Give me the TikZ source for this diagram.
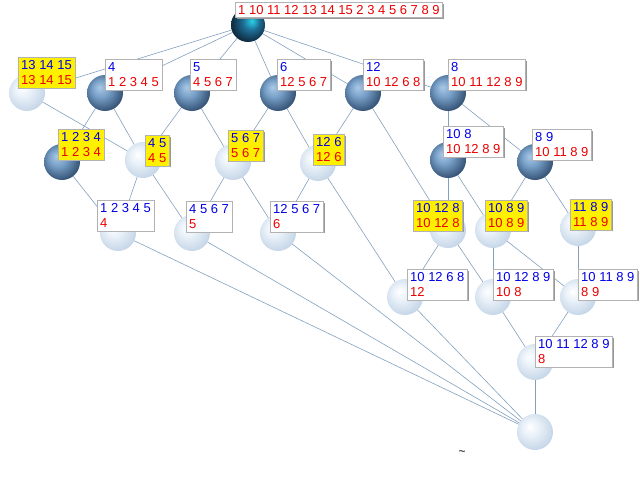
\documentclass[tikz,border=0pt]{standalone}
\usepackage{fontspec}
\setmainfont{Liberation Sans}
\usetikzlibrary{shadows}
\definecolor{edgec}{RGB}{130,160,190}
\definecolor{lblue}{RGB}{0,0,230}
\definecolor{lred}{RGB}{235,0,0}
\definecolor{ybox}{RGB}{255,240,0}
\pgfdeclareradialshading{lball}{\pgfpoint{-8bp}{8bp}}{%
  color(0bp)=(white); color(12bp)=(rgb,255:red,232;green,240;blue,248);
  color(30bp)=(rgb,255:red,195;green,212;blue,230); color(50bp)=(rgb,255:red,185;green,205;blue,225)}
\pgfdeclareradialshading{dball}{\pgfpoint{-8bp}{8bp}}{%
  color(0bp)=(rgb,255:red,170;green,200;blue,230); color(12bp)=(rgb,255:red,120;green,160;blue,200);
  color(28bp)=(rgb,255:red,55;green,85;blue,120); color(50bp)=(rgb,255:red,45;green,70;blue,100)}
\pgfdeclareradialshading{tball}{\pgfpoint{6bp}{6bp}}{%
  color(0bp)=(rgb,255:red,40;green,210;blue,230); color(12bp)=(rgb,255:red,30;green,110;blue,150);
  color(28bp)=(rgb,255:red,15;green,40;blue,60); color(50bp)=(rgb,255:red,10;green,30;blue,45)}
\tikzset{
  ballD/.style={circle,minimum size=36pt,inner sep=0pt,shading=dball},
  ballL/.style={circle,minimum size=36pt,inner sep=0pt,shading=lball},
  ballT/.style={circle,minimum size=36pt,inner sep=0pt,shading=tball},
  edge/.style={draw=edgec,line width=0.6pt},
  lab/.style={anchor=north west,draw=gray!60,fill=white,inner xsep=3pt,inner ysep=3pt,align=left,
    font=\fontsize{13}{15.5}\selectfont,
    drop shadow={shadow xshift=1.5pt,shadow yshift=-1.5pt,fill=gray!80,opacity=1}},
  ylab/.style={lab,fill=ybox}
}
\newcommand{\bl}[2]{\textcolor{lblue}{#1}\\\textcolor{lred}{#2}}
\begin{document}
\begin{tikzpicture}[x=1pt,y=-1pt]
\useasboundingbox (0,0) rectangle (640,479);
\coordinate (T) at (248,25);
\coordinate (A) at (27,93);
\coordinate (B) at (105,93);
\coordinate (C) at (192,93);
\coordinate (D) at (278,93);
\coordinate (E) at (363,93);
\coordinate (F) at (448,93);
\coordinate (G) at (62,162);
\coordinate (H) at (143,160);
\coordinate (I) at (233,162);
\coordinate (J) at (318,163);
\coordinate (K) at (448,160);
\coordinate (L) at (535,162);
\coordinate (M) at (118,233);
\coordinate (N) at (192,233);
\coordinate (O) at (278,233);
\coordinate (P) at (448,230);
\coordinate (Q) at (493,230);
\coordinate (R) at (578,228);
\coordinate (S) at (405,297);
\coordinate (U) at (493,297);
\coordinate (V) at (578,297);
\coordinate (W) at (535,362);
\coordinate (Z) at (535,432);
\foreach \a/\b in {T/A,T/B,T/C,T/D,T/E,T/F,A/H,B/G,B/H,C/H,C/I,D/I,D/J,E/J,E/P,F/K,F/L,
  K/P,K/Q,L/Q,L/R,G/M,H/M,H/N,I/N,I/O,J/O,J/S,P/S,P/U,Q/U,Q/V,R/V,U/W,V/W,
  S/Z,W/Z,M/Z,N/Z,O/Z}
  \draw[edge] (\a) -- (\b);
\node[ballT,minimum size=34pt] (nT) at (T) {};
\foreach \p in {B,C,D,E,F,G,K,L} \node[ballD] (n\p) at (\p) {};
\foreach \p in {A,H,I,J,M,N,O,P,Q,R,S,U,V,W,Z} \node[ballL] (n\p) at (\p) {};
\node[lab] (lT) at (235,2) {\textcolor{lred}{1 10 11 12 13 14 15 2 3 4 5 6 7 8 9}};
\node[ylab] (lA) at (18,57) {\bl{13 14 15}{13 14 15}};
\node[lab] (lB) at (105,59) {\bl{4}{1 2 3 4 5}};
\node[lab] (lC) at (190,59) {\bl{5}{4 5 6 7}};
\node[lab] (lD) at (277,59) {\bl{6}{12 5 6 7}};
\node[lab] (lE) at (363,59) {\bl{12}{10 12 6 8}};
\node[lab] (lF) at (448,59) {\bl{8}{10 11 12 8 9}};
\node[ylab] (lG) at (58,129) {\bl{1 2 3 4}{1 2 3 4}};
\node[ylab] (lH) at (145,135) {\bl{4 5}{4 5}};
\node[ylab] (lI) at (228,130) {\bl{5 6 7}{5 6 7}};
\node[ylab] (lJ) at (313,134) {\bl{12 6}{12 6}};
\node[lab] (lK) at (443,126) {\bl{10 8}{10 12 8 9}};
\node[lab] (lL) at (532,129) {\bl{8 9}{10 11 8 9}};
\node[lab] (lM) at (97,200) {\bl{1 2 3 4 5}{4}};
\node[lab] (lN) at (186,201) {\bl{4 5 6 7}{5}};
\node[lab] (lO) at (270,201) {\bl{12 5 6 7}{6}};
\node[ylab] (lP) at (413,200) {\bl{10 12 8}{10 12 8}};
\node[ylab] (lQ) at (485,200) {\bl{10 8 9}{10 8 9}};
\node[ylab] (lR) at (570,199) {\bl{11 8 9}{11 8 9}};
\node[lab] (lS) at (407,269) {\bl{10 12 6 8}{12}};
\node[lab] (lU) at (493,269) {\bl{10 12 8 9}{10 8}};
\node[lab] (lV) at (578,269) {\bl{10 11 8 9}{8 9}};
\node[lab] (lW) at (535,336) {\bl{10 11 12 8 9}{8}};
\node[font=\large] (tl) at (462,453) {\textasciitilde};
\end{tikzpicture}
\end{document}
